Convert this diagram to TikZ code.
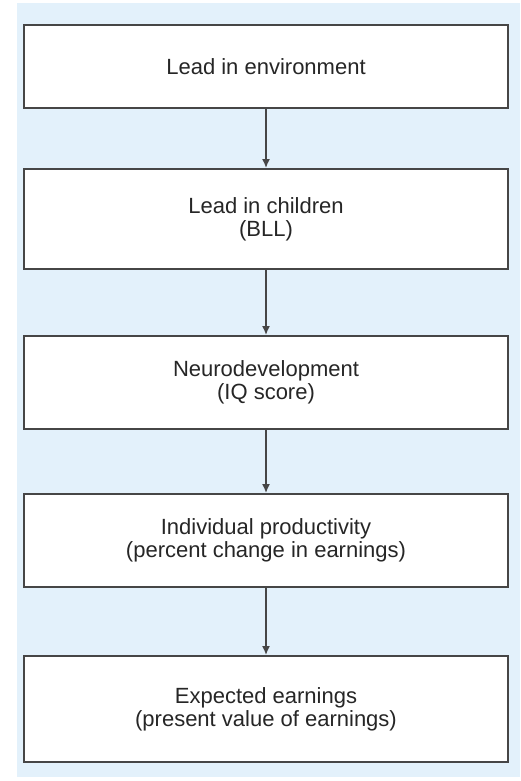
\documentclass[tikz,border=0pt]{standalone}
\usepackage{fontspec}
\setmainfont{Liberation Sans}
\usetikzlibrary{arrows.meta}
\usetikzlibrary{positioning}
\definecolor{panelblue}{RGB}{227,241,251}
\definecolor{boxline}{RGB}{70,70,70}

\begin{document}
\begin{tikzpicture}[
    x = 1pt, y = 1pt,
    >={Latex[length=9pt, width=8pt]},
    box/.style = {
      draw = boxline, line width = 2pt, fill = white,
      minimum width = 484pt,
      inner sep = 0pt,
      align = center,
      font = \fontsize{22}{23}\selectfont,
      text = black!85,
    },
    link/.style = {
      boxline, line width = 1.5pt, ->,
    },
  ]

  \useasboundingbox (0,0) rectangle (520,-781);
  \fill[panelblue] (17,-3) rectangle (520,-777);

  \node[box, minimum height = 83pt] (env) at (266,-66.5)
    {Lead in environment};
  \node[box, minimum height = 100pt] (child) at (266,-219)
    {Lead in children\\(BLL)};
  \node[box, minimum height = 93pt] (neuro) at (266,-382.5)
    {Neurodevelopment\\(IQ score)};
  \node[box, minimum height = 93pt] (prod) at (266,-540.5)
    {Individual productivity\\(percent change in earnings)};
  \node[box, minimum height = 106pt] (earn) at (266,-709)
    {Expected earnings\\(present value of earnings)};

  \draw[link] (env) to (child);
  \draw[link] (child) to (neuro);
  \draw[link] (neuro) to (prod);
  \draw[link] (prod) to (earn);
\end{tikzpicture}
\end{document}
